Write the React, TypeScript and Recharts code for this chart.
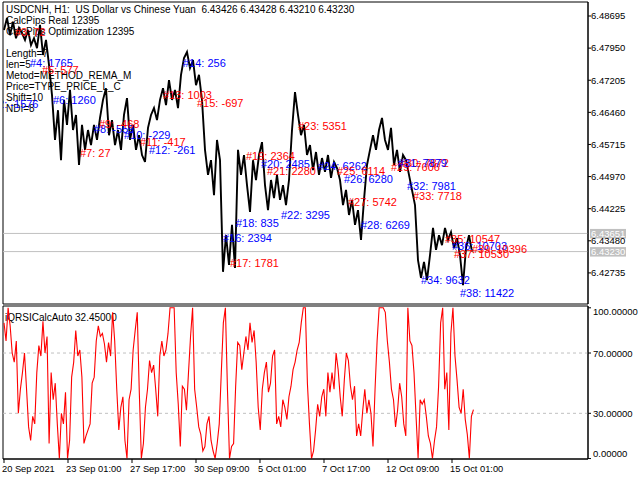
import { ComposedChart, Line, Scatter, XAxis, YAxis, ReferenceLine, ReferenceArea } from 'recharts'

// USDCNH H1 close path, one value every 3 bars
const priceClose = [
  6.4837, 6.4865, 6.4825, 6.4856, 6.4818, 6.4842, 6.4830, 6.4814, 6.4837, 6.4802,
  6.4818, 6.4795, 6.4849, 6.4779, 6.4814, 6.4756, 6.4686, 6.4582, 6.4651, 6.4535,
  6.4675, 6.4617, 6.4698, 6.4605, 6.4640, 6.4524, 6.4617, 6.4559, 6.4605, 6.4570,
  6.4617, 6.4582, 6.4633, 6.4675, 6.4702, 6.4593, 6.4628, 6.4570, 6.4605, 6.4559,
  6.4640, 6.4679, 6.4582, 6.4617, 6.4559, 6.4593, 6.4547, 6.4531, 6.4610, 6.4640,
  6.4656, 6.4628, 6.4675, 6.4702, 6.4663, 6.4721, 6.4675, 6.4698, 6.4656, 6.4733,
  6.4772, 6.4786, 6.4749, 6.4767, 6.4709, 6.4733, 6.4675, 6.4559, 6.4501, 6.4535,
  6.4454, 6.4582, 6.4535, 6.4276, 6.4361, 6.4292, 6.4385, 6.4285, 6.4559, 6.4501,
  6.4547, 6.4477, 6.4415, 6.4535, 6.4489, 6.4547, 6.4577, 6.4477, 6.4419, 6.4489,
  6.4447, 6.4501, 6.4443, 6.4477, 6.4431, 6.4489, 6.4605, 6.4693, 6.4640, 6.4593,
  6.4617, 6.4547, 6.4570, 6.4512, 6.4554, 6.4501, 6.4540, 6.4508, 6.4547, 6.4494,
  6.4531, 6.4517, 6.4489, 6.4431, 6.4466, 6.4408, 6.4443, 6.4385, 6.4419, 6.4350,
  6.4443, 6.4524, 6.4559, 6.4593, 6.4559, 6.4605, 6.4633, 6.4582, 6.4559, 6.4610,
  6.4524, 6.4559, 6.4508, 6.4547, 6.4535, 6.4501, 6.4466, 6.4431, 6.4303, 6.4262,
  6.4299, 6.4257, 6.4315, 6.4378, 6.4327, 6.4361, 6.4338, 6.4378, 6.4350, 6.4368,
  6.4331, 6.4354, 6.4315, 6.4245, 6.4331, 6.4361, 6.4323,
]

// iQRSICalcAuto, one value every ~2 bars
const rsiValues = [
  90, 78, 100, 88, 70, 64, 78, 30, 46, 57,
  70, 46, 21, 12, 28, 23, 57, 75, 68, 91,
  70, 81, 10, 57, 39, 50, 23, 0, 30, 23,
  44, 0, 12, 54, 64, 85, 68, 72, 54, 10,
  15, 19, 23, 50, 54, 78, 88, 81, 83, 76,
  64, 77, 68, 97, 78, 46, 19, 34, 41, 12,
  0, 39, 46, 72, 85, 97, 44, 0, 10, 34,
  46, 65, 57, 62, 46, 28, 68, 78, 68, 72,
  83, 100, 100, 100, 57, 36, 8, 48, 46, 32,
  57, 81, 100, 46, 34, 21, 16, 5, 8, 23,
  28, 12, 5, 0, 10, 23, 57, 90, 100, 46,
  0, 8, 10, 48, 77, 75, 59, 70, 81, 72,
  90, 77, 85, 64, 34, 19, 46, 57, 64, 44,
  50, 68, 72, 23, 28, 21, 39, 34, 26, 41,
  48, 59, 64, 72, 77, 90, 100, 100, 50, 23,
  0, 5, 19, 36, 28, 41, 46, 28, 57, 44,
  57, 46, 70, 59, 41, 28, 52, 70, 65, 48,
  39, 48, 15, 23, 15, 32, 46, 30, 39, 30,
  8, 46, 78, 100, 100, 100, 97, 78, 64, 46,
  39, 21, 32, 50, 41, 23, 15, 100, 78, 75,
  57, 28, 0, 39, 36, 39, 28, 15, 10, 0,
  12, 21, 48, 90, 100, 46, 57, 19, 83, 100,
  68, 52, 34, 30, 46, 26, 16, 0, 28, 32.45,
]

const priceTicks = [6.48695, 6.4795, 6.47205, 6.4646, 6.45715, 6.4497, 6.44225, 6.4348, 6.42735]
const rsiTicks = [0, 30, 70, 100]
const timeTicks = [0, 64, 128, 192, 256, 320, 384, 448]
const timeLabels = ['20 Sep 2021', '23 Sep 01:00', '27 Sep 17:00', '30 Sep 09:00', '5 Oct 01:00', '7 Oct 17:00', '12 Oct 09:00', '15 Oct 01:00']

const askPrice = 6.43651
const bidPrice = 6.4323

const infoLines = [
  'USDCNH, H1:  US Dollar vs Chinese Yuan  6.43426 6.43428 6.43210 6.43230',
  'CalcPips Real 12395',
  'CalcPips Optimization 12395',
  '',
  'Length=7',
  'len=5',
  'Metod=METHOD_REMA_M',
  'Price=TYPE_PRICE_L_C',
  'Shift=10',
  'NDI=8',
]

const RED = '#ff0000'
const BLUE = '#0000ff'

// [text, bar, price, colour]
const tradeMarks: [string, number, number, string][] = [
  ['#2: -1576', -12, 6.4656, BLUE],
  ['#3: 72', 11, 6.4823, RED],
  ['#4: 1765', 26, 6.4751, BLUE],
  ['#5: 577', 38, 6.4735, RED],
  ['#6: 1260', 49, 6.4665, BLUE],
  ['#7: 27', 76, 6.4542, RED],
  ['#8: -559', 90, 6.4598, BLUE],
  ['#9: -468', 95, 6.461, RED],
  ['#10: -229', 120, 6.4584, BLUE],
  ['#11: -417', 136, 6.4568, RED],
  ['#12: -261', 145, 6.4549, BLUE],
  ['#13: 1003', 159, 6.4677, RED],
  ['#14: 256', 179, 6.4751, BLUE],
  ['#15: -697', 193, 6.4658, RED],
  ['#16: 2394', 219, 6.4345, BLUE],
  ['#17: 1781', 226, 6.4287, RED],
  ['#18: 835', 232, 6.438, BLUE],
  ['#19: 2364', 242, 6.4535, RED],
  ['#20: 2485', 257, 6.4517, BLUE],
  ['#21: 2280', 263, 6.4501, RED],
  ['#22: 3295', 277, 6.4399, BLUE],
  ['#23: 5351', 294, 6.4605, RED],
  ['#24: 6262', 314, 6.4512, BLUE],
  ['#25: 6114', 333, 6.4501, RED],
  ['#26: 6280', 340, 6.4482, BLUE],
  ['#27: 5742', 344, 6.4429, RED],
  ['#28: 6269', 357, 6.4375, BLUE],
  ['#29: 7606', 387, 6.451, RED],
  ['#30: 7872', 396, 6.4519, RED],
  ['#31: 7879', 394, 6.4519, BLUE],
  ['#32: 7981', 403, 6.4466, BLUE],
  ['#33: 7718', 409, 6.4443, RED],
  ['#34: 9632', 417, 6.4248, BLUE],
  ['#35: 10547', 441, 6.4343, RED],
  ['#36: 10703', 448, 6.4327, BLUE],
  ['#37: 10530', 450, 6.4308, RED],
  ['#38: 11422', 456, 6.4218, BLUE],
  ['#39: 10396', 468, 6.432, RED],
]

const FONT = '"Liberation Sans", Arial, sans-serif'
const PRICE_DOMAIN = [6.42014, 6.4902]
const BAR_DOMAIN = [-1, 584]

const priceRows = priceClose.map((p, i) => ({ bar: i * 3, p }))
const rsiRows = rsiValues.map((v, i) => ({ bar: i * 2.05, v }))
const markRows = tradeMarks.map(([text, bar, p, color]) => ({ text, bar, p, color }))

const MarkText = (props: any) => {
  const { cx, cy, payload } = props
  return (
    <text x={cx} y={cy} fill={payload.color} fontSize={11} fontFamily={FONT}>
      {payload.text}
    </text>
  )
}

// grey price tag on the right scale
const PriceTag = (props: any) => {
  const { viewBox, text } = props
  const x = viewBox.x + viewBox.width + 2
  const y = viewBox.y
  return (
    <g>
      <rect x={x} y={y - 4.5} width={36} height={9.5} fill="#c0c0c0" />
      <text x={x + 1} y={y + 3.5} fill="#ffffff" fontSize={9.5} fontFamily={FONT}>
        {text}
      </text>
    </g>
  )
}

const RsiTick = (props: any) => {
  const { x, y, payload } = props
  const shift = payload.value === 100 ? 4 : payload.value === 0 ? -5 : 0
  return (
    <text x={x} y={y + shift + 3.5} fill="#000" fontSize={9.5} fontFamily={FONT} textAnchor="start">
      {payload.value.toFixed(5)}
    </text>
  )
}

const TimeTick = (props: any) => {
  const { x, y, payload } = props
  return (
    <text x={x - 2} y={y + 7} fill="#000" fontSize={9.3} fontFamily={FONT} textAnchor="start">
      {timeLabels[timeTicks.indexOf(payload.value)]}
    </text>
  )
}

export default function App() {
  return (
    <div style={{ position: 'absolute', left: 0, top: 0, width: 640, height: 480, background: '#fff', overflow: 'hidden' }}>
      <div style={{ position: 'absolute', left: 6, top: 3.5, fontFamily: FONT, fontSize: 10, lineHeight: '11px', whiteSpace: 'pre', color: '#000' }}>
        {infoLines.map((line, i) => (
          <div key={i} style={{ height: 11 }}>{line}</div>
        ))}
      </div>
      <div style={{ position: 'absolute', left: 5, top: 311.5, fontFamily: FONT, fontSize: 10, lineHeight: '11px', color: '#000' }}>
        iQRSICalcAuto 32.45000
      </div>

      <div style={{ position: 'absolute', left: 0, top: 0 }}>
        <ComposedChart width={640} height={306} margin={{ top: 2, right: 0, left: 3, bottom: 2 }}>
          <XAxis type="number" dataKey="bar" domain={BAR_DOMAIN} allowDataOverflow hide />
          <YAxis
            orientation="right"
            type="number"
            domain={PRICE_DOMAIN}
            allowDataOverflow
            ticks={priceTicks}
            interval={0}
            width={52}
            tickSize={3}
            tickMargin={0}
            tickFormatter={(v: number) => v.toFixed(5)}
            axisLine={{ stroke: '#000' }}
            tickLine={{ stroke: '#000' }}
            tick={{ fontSize: 9.5, fill: '#000', fontFamily: FONT }}
          />
          <ReferenceArea x1={BAR_DOMAIN[0]} x2={BAR_DOMAIN[1]} y1={PRICE_DOMAIN[0]} y2={PRICE_DOMAIN[1]} fill="none" fillOpacity={0} stroke="#000" ifOverflow="visible" />
          <ReferenceLine y={askPrice} stroke="#c0c0c0" label={<PriceTag text="6.43651" />} />
          <ReferenceLine y={bidPrice} stroke="#c0c0c0" label={<PriceTag text="6.43230" />} />
          <Line data={priceRows} dataKey="p" type="linear" stroke="#000" strokeWidth={1.9} dot={false} isAnimationActive={false} />
          <Scatter data={markRows} dataKey="p" shape={MarkText} isAnimationActive={false} />
        </ComposedChart>
      </div>

      <div style={{ position: 'absolute', left: 0, top: 305 }}>
        <ComposedChart width={640} height={175} margin={{ top: 1, right: 0, left: 3, bottom: 0 }}>
          <XAxis
            type="number"
            dataKey="bar"
            domain={BAR_DOMAIN}
            allowDataOverflow
            ticks={timeTicks}
            interval={0}
            height={21}
            tickSize={4}
            tickMargin={2}
            axisLine={{ stroke: '#000' }}
            tickLine={{ stroke: '#000' }}
            tick={<TimeTick />}
          />
          <YAxis
            orientation="right"
            type="number"
            domain={[-0.3, 101.2]}
            allowDataOverflow
            ticks={rsiTicks}
            interval={0}
            width={52}
            tickSize={3}
            tickMargin={2}
            axisLine={{ stroke: '#000' }}
            tickLine={{ stroke: '#000' }}
            tick={<RsiTick />}
          />
          <ReferenceArea x1={BAR_DOMAIN[0]} x2={BAR_DOMAIN[1]} y1={-0.3} y2={101.2} fill="none" fillOpacity={0} stroke="#000" ifOverflow="visible" />
          <ReferenceLine y={70} stroke="#c0c0c0" strokeDasharray="3 3" />
          <ReferenceLine y={30} stroke="#c0c0c0" strokeDasharray="3 3" />
          <Line data={rsiRows} dataKey="v" type="linear" stroke="#ff0000" strokeWidth={1.1} dot={false} isAnimationActive={false} />
        </ComposedChart>
      </div>
    </div>
  )
}
